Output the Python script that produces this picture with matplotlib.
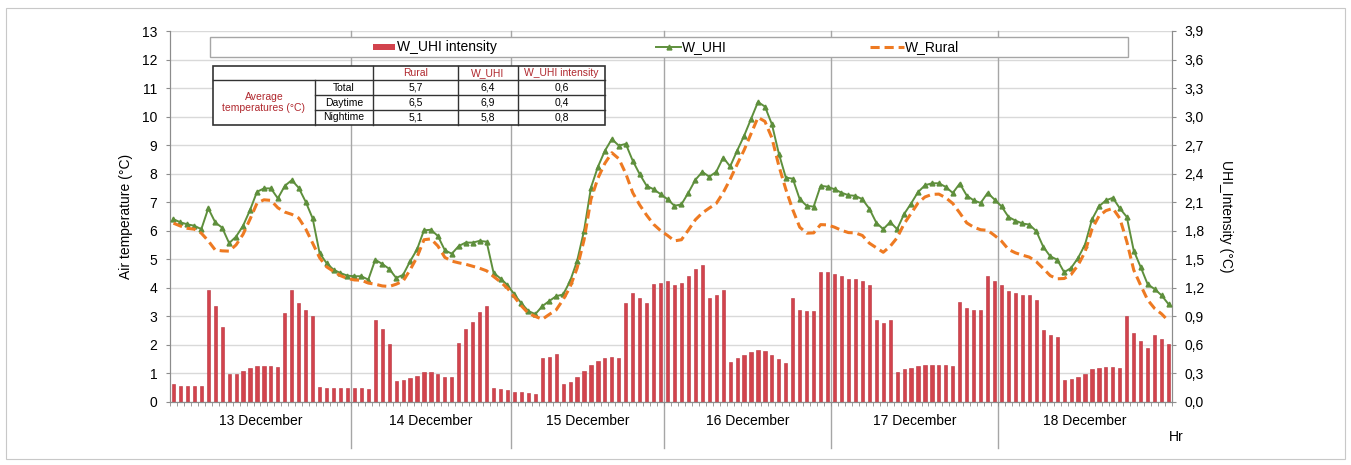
import matplotlib.pyplot as plt
import matplotlib.transforms as mtransforms
from matplotlib.patches import Rectangle
from matplotlib.lines import Line2D

plt.rcParams['font.family'] = ['Liberation Sans', 'DejaVu Sans']

# hourly series, 13-18 December (144 values)
w_uhi = [6.40, 6.29, 6.22, 6.17, 6.05, 6.78, 6.29, 6.10, 5.56, 5.79, 6.17, 6.72, 7.36, 7.48, 7.48, 7.13,
         7.57, 7.77, 7.50, 7.01, 6.43, 5.21, 4.86, 4.63, 4.51, 4.42, 4.40, 4.40, 4.28, 4.98, 4.83, 4.66,
         4.34, 4.45, 4.92, 5.34, 6.01, 6.03, 5.81, 5.31, 5.19, 5.46, 5.58, 5.58, 5.64, 5.61, 4.52, 4.32,
         4.09, 3.76, 3.45, 3.18, 3.07, 3.35, 3.53, 3.70, 3.76, 4.23, 4.93, 5.99, 7.51, 8.24, 8.80, 9.21,
         8.98, 9.04, 8.45, 7.98, 7.57, 7.45, 7.28, 7.10, 6.87, 6.92, 7.33, 7.78, 8.06, 7.89, 8.06, 8.56,
         8.25, 8.80, 9.32, 9.91, 10.51, 10.35, 9.73, 8.70, 7.86, 7.82, 7.10, 6.87, 6.84, 7.57, 7.54, 7.45,
         7.33, 7.24, 7.22, 7.10, 6.77, 6.28, 6.05, 6.30, 6.05, 6.58, 6.95, 7.35, 7.59, 7.66, 7.66, 7.53,
         7.32, 7.65, 7.23, 7.06, 6.97, 7.32, 7.09, 6.85, 6.48, 6.35, 6.25, 6.21, 5.98, 5.43, 5.10, 4.98,
         4.54, 4.69, 5.04, 5.51, 6.39, 6.85, 7.06, 7.15, 6.78, 6.48, 5.30, 4.72, 4.12, 3.95, 3.73, 3.42]

w_rural = [6.26, 6.16, 6.08, 6.05, 5.91, 5.64, 5.32, 5.29, 5.28, 5.50, 5.87, 6.40, 6.96, 7.08, 7.06, 6.80,
           6.65, 6.57, 6.44, 6.06, 5.56, 5.05, 4.73, 4.57, 4.42, 4.32, 4.27, 4.26, 4.16, 4.12, 4.06, 4.04,
           4.12, 4.23, 4.62, 5.07, 5.68, 5.71, 5.46, 5.06, 4.93, 4.87, 4.82, 4.75, 4.68, 4.59, 4.39, 4.20,
           3.98, 3.67, 3.36, 3.10, 2.99, 2.89, 3.06, 3.22, 3.58, 4.02, 4.68, 5.67, 7.10, 7.84, 8.36, 8.73,
           8.52, 8.00, 7.33, 6.90, 6.54, 6.22, 6.00, 5.83, 5.64, 5.68, 6.02, 6.38, 6.62, 6.79, 6.95, 7.33,
           7.80, 8.32, 8.82, 9.40, 9.97, 9.83, 9.25, 8.27, 7.45, 6.73, 6.12, 5.91, 5.92, 6.21, 6.20, 6.12,
           6.01, 5.93, 5.92, 5.83, 5.56, 5.40, 5.24, 5.45, 5.75, 6.24, 6.60, 6.97, 7.18, 7.27, 7.28, 7.15,
           6.95, 6.62, 6.27, 6.12, 6.03, 6.01, 5.83, 5.63, 5.34, 5.22, 5.14, 5.07, 4.91, 4.67, 4.42, 4.31,
           4.32, 4.46, 4.79, 5.25, 6.05, 6.51, 6.70, 6.78, 6.43, 5.62, 4.62, 4.08, 3.57, 3.27, 3.08, 2.83]

uhi_intensity = [0.19, 0.17, 0.17, 0.17, 0.17, 1.17, 1.01, 0.79, 0.29, 0.29, 0.32, 0.35, 0.38, 0.38, 0.38, 0.37,
                 0.93, 1.18, 1.04, 0.97, 0.90, 0.15, 0.14, 0.14, 0.14, 0.14, 0.14, 0.14, 0.13, 0.86, 0.76, 0.61,
                 0.22, 0.23, 0.25, 0.27, 0.31, 0.31, 0.29, 0.26, 0.26, 0.62, 0.76, 0.84, 0.94, 1.01, 0.14, 0.13,
                 0.12, 0.10, 0.10, 0.09, 0.08, 0.46, 0.47, 0.50, 0.19, 0.21, 0.26, 0.32, 0.39, 0.43, 0.46, 0.47,
                 0.46, 1.04, 1.14, 1.09, 1.04, 1.24, 1.25, 1.27, 1.23, 1.25, 1.32, 1.40, 1.44, 1.09, 1.12, 1.18,
                 0.42, 0.46, 0.49, 0.52, 0.54, 0.53, 0.49, 0.45, 0.41, 1.09, 0.97, 0.95, 0.95, 1.36, 1.36, 1.34,
                 1.32, 1.29, 1.29, 1.27, 1.23, 0.86, 0.83, 0.86, 0.31, 0.34, 0.35, 0.38, 0.39, 0.39, 0.39, 0.39,
                 0.38, 1.05, 0.99, 0.97, 0.96, 1.32, 1.27, 1.23, 1.16, 1.14, 1.12, 1.12, 1.07, 0.75, 0.70, 0.68,
                 0.23, 0.24, 0.26, 0.29, 0.34, 0.35, 0.37, 0.37, 0.35, 0.90, 0.72, 0.64, 0.56, 0.70, 0.66, 0.61]

days = ["13 December", "14 December", "15 December", "16 December", "17 December", "18 December"]
day_edges = [-0.5, 25.5, 48.5, 70.5, 94.5, 118.5, 143.5]

temp_ticks = list(range(0, 14))
intensity_ticks = [0.0, 0.3, 0.6, 0.9, 1.2, 1.5, 1.8, 2.1, 2.4, 2.7, 3.0, 3.3, 3.6, 3.9]
intensity_labels = ["0,0", "0,3", "0,6", "0,9", "1,2", "1,5", "1,8", "2,1", "2,4", "2,7", "3,0", "3,3", "3,6", "3,9"]

table_cols = ["Rural", "W_UHI", "W_UHI intensity"]
table_rows = ["Total", "Daytime", "Nightime"]
avg_rural = ["5,7", "6,5", "5,1"]
avg_uhi = ["6,4", "6,9", "5,8"]
avg_intensity = ["0,6", "0,4", "0,8"]

W, H = 1351, 465
RED = "#d2434d"
GREEN = "#5e8f3c"
ORANGE = "#ee7a22"
DARKRED = "#b0282e"
GRID = "#d9d9d9"
AXIS = "#8c8c8c"


def fx(x):
    return x / W


def fy(y):
    return 1 - y / H


def main():
    fig = plt.figure(figsize=(W / 100, H / 100), dpi=100)
    ax2 = fig.add_axes([fx(170), fy(401.7), (1172 - 170) / W, (401.7 - 31) / H])
    ax = ax2.twinx()
    # lines axis (left scale) must sit on top of the bars
    ax.yaxis.tick_left()
    ax.yaxis.set_label_position("left")
    ax2.yaxis.tick_right()
    ax2.yaxis.set_label_position("right")

    x = list(range(len(w_uhi)))

    ax2.set_ylim(0, 3.9)
    ax2.set_xlim(-0.5, len(x) - 0.5)
    ax2.set_yticks(intensity_ticks)
    ax2.set_yticklabels(intensity_labels)
    for t in intensity_ticks:
        ax2.axhline(t, color=GRID, linewidth=1, zorder=0)
    ax2.bar(x, uhi_intensity, width=0.45, color=RED, edgecolor="#b8323c", linewidth=0.4, zorder=2)

    ax.set_ylim(0, 13)
    ax.set_yticks(temp_ticks)
    ax.plot(x, w_uhi, color=GREEN, linewidth=1.4, marker="^", markersize=3.5, zorder=3)
    ax.plot(x, w_rural, color=ORANGE, linewidth=2.2, linestyle=(0, (3, 1.6)), zorder=4)

    # x axis: ticks between categories, day separators and day names
    trans = mtransforms.blended_transform_factory(ax2.transData, ax2.transAxes)
    ax2.set_xticks([i - 0.5 for i in range(len(x) + 1)], minor=True)
    ax2.set_xticks([])
    ax2.tick_params(axis="x", which="minor", length=3, color=AXIS)
    for b in day_edges[1:-1]:
        ax2.plot([b, b], [-0.125, 1], color="#a6a6a6", linewidth=1, transform=trans, clip_on=False, zorder=1)
    for i, d in enumerate(days):
        mid = (day_edges[i] + day_edges[i + 1]) / 2
        ax2.text(mid, -0.052, d, transform=trans, ha="center", va="center", fontsize=10)
    fig.text(fx(1176), fy(437), "Hr", ha="center", va="center", fontsize=10)

    for a in (ax, ax2):
        a.spines["top"].set_visible(False)
        for s in ("left", "right", "bottom"):
            a.spines[s].set_color(AXIS)
        a.tick_params(axis="y", length=3, pad=6, labelsize=10, color=AXIS)
    ax.patch.set_visible(False)

    fig.text(fx(126), fy(216), "Air temperature (°C)", rotation=90, ha="center", va="center", fontsize=10)
    fig.text(fx(1226), fy(216), "UHI_Intensity (°C)", rotation=270, ha="center", va="center", fontsize=10)

    # legend box across the top
    fig.add_artist(Rectangle((fx(210), fy(57)), fx(1128) - fx(210), fy(37) - fy(57),
                             transform=fig.transFigure, facecolor="white", edgecolor="#a6a6a6", linewidth=1))
    fig.add_artist(Rectangle((fx(373), fy(50)), fx(395) - fx(373), fy(44) - fy(50),
                             transform=fig.transFigure, facecolor=RED, edgecolor="none"))
    fig.text(fx(397), fy(47), "W_UHI intensity", ha="left", va="center", fontsize=10)
    fig.add_artist(Line2D([fx(656), fx(681)], [fy(47), fy(47)], transform=fig.transFigure,
                          color=GREEN, linewidth=1.4))
    fig.add_artist(Line2D([fx(668.5)], [fy(47)], transform=fig.transFigure, color=GREEN,
                          marker="^", markersize=3.5))
    fig.text(fx(682), fy(47), "W_UHI", ha="left", va="center", fontsize=10)
    fig.add_artist(Line2D([fx(870), fx(904)], [fy(47), fy(47)], transform=fig.transFigure,
                          color=ORANGE, linewidth=2.2, linestyle=(0, (3, 1.6))))
    fig.text(fx(905), fy(47), "W_Rural", ha="left", va="center", fontsize=10)

    # averages table
    col_x = [213, 315, 373, 458, 518, 605]
    row_y = [66, 80, 95, 110, 125]
    fig.add_artist(Rectangle((fx(col_x[0]), fy(row_y[-1])), fx(col_x[-1]) - fx(col_x[0]),
                             fy(row_y[0]) - fy(row_y[-1]), transform=fig.transFigure,
                             facecolor="white", edgecolor="#333333", linewidth=1.2))
    fig.add_artist(Line2D([fx(col_x[0]), fx(col_x[-1])], [fy(row_y[1])] * 2, transform=fig.transFigure,
                          color="#333333", linewidth=1))
    for y in row_y[2:-1]:
        fig.add_artist(Line2D([fx(col_x[1]), fx(col_x[-1])], [fy(y)] * 2, transform=fig.transFigure,
                              color="#333333", linewidth=1))
    fig.add_artist(Line2D([fx(col_x[1])] * 2, [fy(row_y[1]), fy(row_y[-1])], transform=fig.transFigure,
                          color="#333333", linewidth=1))
    for cx in col_x[2:-1]:
        fig.add_artist(Line2D([fx(cx)] * 2, [fy(row_y[0]), fy(row_y[-1])], transform=fig.transFigure,
                              color="#333333", linewidth=1))
    for j, name in enumerate(table_cols):
        fig.text(fx((col_x[j + 2] + col_x[j + 3]) / 2), fy((row_y[0] + row_y[1]) / 2), name,
                 ha="center", va="center", fontsize=7.5, color=DARKRED)
    fig.text(fx((col_x[0] + col_x[1]) / 2), fy((row_y[1] + row_y[-1]) / 2), "Average\ntemperatures (°C)",
             ha="center", va="center", fontsize=7.5, color=DARKRED, linespacing=1.1)
    for r, name in enumerate(table_rows):
        yc = fy((row_y[r + 1] + row_y[r + 2]) / 2)
        fig.text(fx((col_x[1] + col_x[2]) / 2), yc, name, ha="center", va="center", fontsize=7.5)
        for j, vals in enumerate([avg_rural, avg_uhi, avg_intensity]):
            fig.text(fx((col_x[j + 2] + col_x[j + 3]) / 2), yc, vals[r], ha="center", va="center", fontsize=7.5)

    # thin frame around the whole chart
    fig.add_artist(Rectangle((fx(6), fy(459)), fx(1345) - fx(6), fy(8) - fy(459),
                             transform=fig.transFigure, facecolor="none", edgecolor="#c8c8c8", linewidth=0.8))

    fig.savefig("out.png", dpi=100)


if __name__ == "__main__":
    main()
